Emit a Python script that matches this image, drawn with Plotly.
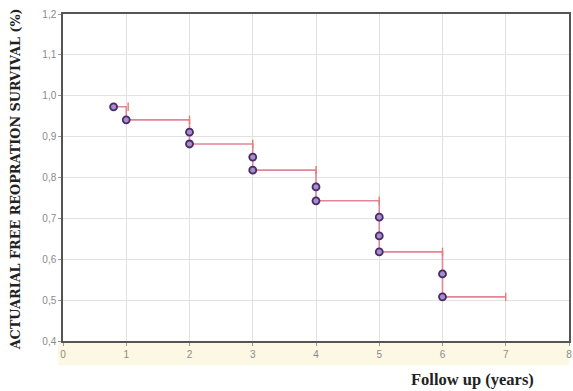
import plotly.graph_objects as go

# Kaplan-Meier style data
event_times = [0.8, 1, 2, 2, 3, 3, 4, 4, 5, 5, 5, 6, 6]
event_surv = [0.973, 0.941, 0.911, 0.882, 0.850, 0.818, 0.777, 0.743, 0.703, 0.657, 0.618, 0.564, 0.508]

step_times = [0.8, 1, 2, 3, 4, 5, 6, 7]
step_surv = [0.973, 0.941, 0.882, 0.818, 0.743, 0.618, 0.508, 0.508]

censor_times = [1.03, 2, 3, 4, 5, 6, 7]
censor_surv = [0.973, 0.941, 0.882, 0.818, 0.743, 0.618, 0.508]

x_ticks = [0, 1, 2, 3, 4, 5, 6, 7, 8]
y_ticks = [0.4, 0.5, 0.6, 0.7, 0.8, 0.9, 1.0, 1.1, 1.2]
y_tick_labels = ["0,4", "0,5", "0,6", "0,7", "0,8", "0,9", "1,0", "1,1", "1,2"]

line_color = "#df8796"
fig = go.Figure()
fig.add_trace(go.Scatter(x=step_times, y=step_surv, mode="lines", line_shape="hv",
                         line=dict(color=line_color, width=1.6), hoverinfo="skip"))
fig.add_trace(go.Scatter(x=censor_times, y=censor_surv, mode="markers",
                         marker=dict(symbol="line-ns", size=6,
                                     line=dict(color="#e0806f", width=1.4))))
fig.add_trace(go.Scatter(x=event_times, y=event_surv, mode="markers",
                         marker=dict(symbol="circle", size=7, color="#a58fc8",
                                     line=dict(color="#4a2a6a", width=1.8))))

fig.add_shape(type="rect", xref="paper", yref="paper", x0=-0.01, x1=1.0, y0=-0.075, y1=-0.002,
              fillcolor="#fdf8e4", line_width=0, layer="below")

fig.update_layout(
    width=573, height=391,
    margin=dict(l=63, r=2, t=14, b=50),
    paper_bgcolor="white", plot_bgcolor="white",
    showlegend=False,
    font=dict(family="Arial, Liberation Sans, sans-serif", size=10, color="#8a8a8a"),
    xaxis=dict(range=[0, 8], tickvals=x_ticks, ticktext=[str(v) for v in x_ticks],
               showgrid=True, gridcolor="#e2e2e2", gridwidth=1,
               showline=True, linecolor="#555555", linewidth=1.5, mirror=True,
               ticks="outside", ticklen=3, tickcolor="#999999", zeroline=False,
               tickfont=dict(size=10, color="#8a8a8a")),
    yaxis=dict(range=[0.4, 1.2], tickvals=y_ticks, ticktext=y_tick_labels,
               showgrid=True, gridcolor="#e2e2e2", gridwidth=1,
               showline=True, linecolor="#555555", linewidth=1.5, mirror=True,
               ticks="outside", ticklen=3, tickcolor="#999999", zeroline=False,
               tickfont=dict(size=10, color="#8a8a8a")),
)
fig.add_annotation(text="<b>Follow up (years)</b>", xref="paper", yref="paper",
                   x=0.809, y=-0.083, xanchor="center", yanchor="top", showarrow=False,
                   font=dict(family="Liberation Serif, Times New Roman, serif", size=16.5, color="#222222"))
fig.add_annotation(text="<b>ACTUARIAL FREE REOPRATION SURVIVAL (%)</b>", xref="paper", yref="paper",
                   x=-0.0945, y=0.495, xanchor="center", yanchor="middle", textangle=-90, showarrow=False,
                   font=dict(family="DejaVu Serif, serif", size=12.8, color="#222222"))

fig.write_html("out.html", config={"displayModeBar": False},
               post_script="document.body.style.margin='0';document.body.style.overflow='hidden';")
